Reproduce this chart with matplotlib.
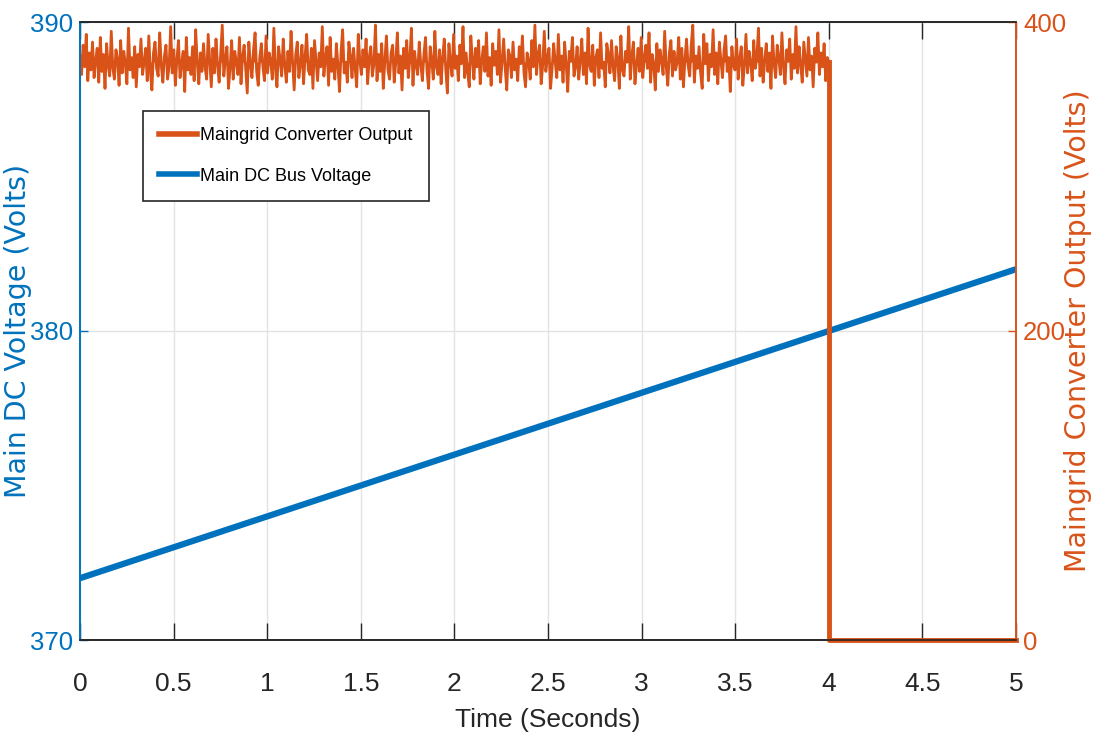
import numpy as np
import matplotlib
matplotlib.use("Agg")
import matplotlib.pyplot as plt
from matplotlib.lines import Line2D

# --- data ---
bus_time = [0, 5]
bus_voltage = [372, 382]  # Main DC bus (left axis)

# Maingrid converter output, noisy sampled signal from t=0 to t=4 (right axis)
grid_noise = [
    378, 366, 385, 371, 392, 362, 380, 369, 387, 364, 375, 383, 361, 390, 368, 379, 357, 386, 372, 365,
    394, 370, 363, 382, 376, 359, 388, 367, 381, 373, 360, 396, 369, 377, 364, 384, 358, 379, 371, 389,
    366, 374, 383, 362, 391, 368, 356, 380, 387, 370, 365, 393, 372, 361, 378, 385, 363, 371, 397, 367,
    382, 359, 376, 388, 364, 373, 381, 355, 390, 369, 377, 366, 384, 362, 395, 374, 360, 380, 368, 386,
    371, 363, 392, 375, 358, 383, 367, 389, 372, 361, 379, 398, 365, 376, 384, 357, 370, 388, 363, 381,
    374, 366, 390, 360, 378, 385, 369, 354, 387, 373, 364, 382, 393, 368, 359, 377, 386, 371, 362, 391,
    367, 380, 375, 363, 396, 370, 358, 384, 376, 365, 389, 372, 361, 381, 368, 394, 374, 356, 379, 387,
    364, 373, 385, 360, 378, 392, 369, 366, 383, 357, 388, 375, 362, 380, 371, 397, 365, 377, 384, 359,
    390, 368, 376, 363, 386, 372, 355, 381, 395, 367, 374, 361, 387, 378, 364, 383, 370, 358, 392, 375,
    366, 382, 371, 389, 360, 377, 384, 365, 373, 398, 362, 379, 368, 386, 357, 375, 391, 369, 363, 380,
    385, 361, 374, 393, 367, 378, 356, 383, 370, 388, 364, 376, 396, 359, 381, 372, 366, 387, 373, 362,
    379, 390, 368, 357, 384, 375, 363, 394, 371, 366, 382, 360, 377, 389, 369, 354, 386, 374, 365, 392,
    370, 378, 362, 385, 373, 397, 364, 380, 367, 358, 391, 376, 363, 383, 371, 388, 360, 375, 384, 368,
    393, 365, 377, 359, 386, 372, 381, 366, 395, 361, 374, 389, 370, 356, 382, 378, 364, 387, 369, 376,
    362, 384, 373, 391, 367, 358, 380, 375, 363, 388, 371, 398, 366, 379, 385, 360, 372, 394, 368, 377,
    383, 357, 370, 386, 374, 364, 392, 369, 378, 361, 387, 373, 355, 381, 376, 390, 365, 371, 384, 363,
    375, 389, 366, 380, 360, 396, 372, 368, 385, 359, 377, 382, 364, 393, 370, 374, 358, 386, 379, 367,
    388, 371, 362, 384, 376, 357, 391, 369, 365, 381, 374, 397, 363, 378, 387, 360, 372, 383, 368, 390,
    364, 377, 385, 370, 393, 361, 379, 373, 356, 386, 368, 382, 375, 366, 394, 371, 359, 380, 388, 365,
    381, 369, 374, 390, 363, 383, 358, 376, 389, 372, 365, 385, 398, 361, 378, 370, 384, 367, 357, 392,
    373, 386, 362, 379, 371, 395, 366, 380, 360, 387, 375, 364, 382, 391, 368, 377, 355, 384, 372, 369,
    389, 363, 376, 384, 359, 372, 392, 367, 381, 374, 362, 388, 370, 378, 396, 365, 383, 361, 375, 386,
    368, 380, 357, 391, 373, 364, 385, 377, 366, 393, 371, 360, 382, 375, 389, 363, 379, 370, 397, 367,
    384, 372, 361, 387, 376, 365, 390, 369, 378, 358, 383, 374, 393, 366, 380, 371, 386, 362, 377, 374,
]
grid_center = 374
grid_off_time = [4, 4, 5]
grid_off_value = [374, 0, 0]

x_ticks = [0, 0.5, 1, 1.5, 2, 2.5, 3, 3.5, 4, 4.5, 5]
x_ticklabels = ["0", "0.5", "1", "1.5", "2", "2.5", "3", "3.5", "4", "4.5", "5"]
left_ticks = [370, 380, 390]
right_ticks = [0, 200, 400]

BLUE = "#0072BD"
ORANGE = "#D95319"
DARK = "#262626"
NARROW = ["Liberation Sans Narrow", "Liberation Sans", "DejaVu Sans"]
WIDE = ["DejaVu Sans"]

grid_time = np.linspace(0, 4, len(grid_noise))

fig = plt.figure(figsize=(11.01, 7.34), dpi=100)
ax1 = fig.add_axes([80 / 1101, 94 / 734, 936 / 1101, 618 / 734])
ax2 = ax1.twinx()

# left axis: DC bus voltage
ax1.plot(bus_time, bus_voltage, color=BLUE, lw=4.5, solid_capstyle="butt")
ax1.set_xlim(0, 5)
ax1.set_ylim(370, 390)
ax1.set_xticks(x_ticks)
ax1.set_xticklabels(x_ticklabels, family=NARROW, fontsize=19, color=DARK)
ax1.set_yticks(left_ticks)
ax1.set_yticklabels([str(v) for v in left_ticks], family=NARROW, fontsize=18.5, color=BLUE)
ax1.tick_params(axis="x", direction="in", length=12, width=1, color=DARK, pad=23, top=True)
ax1.tick_params(axis="y", direction="in", length=6, width=1, color=BLUE, pad=5)
ax1.grid(True, color="#e3e3e3", lw=1)
ax1.set_axisbelow(True)
ax1.set_ylabel("Main DC Voltage (Volts)", family=WIDE, fontsize=20.5, color=BLUE)
ax1.yaxis.set_label_coords(-0.0515, 0.5)

# right axis: maingrid converter output
ax2.fill_between(grid_time, grid_noise, grid_center, color=ORANGE, lw=0)
ax2.plot(grid_time, grid_noise, color=ORANGE, lw=2.0)
ax2.plot(grid_off_time, grid_off_value, color=ORANGE, lw=3.5, clip_on=False)
ax2.set_ylim(0, 400)
ax2.set_yticks(right_ticks)
ax2.set_yticklabels([str(v) for v in right_ticks], family=NARROW, fontsize=18.5, color=ORANGE)
ax2.tick_params(axis="y", direction="in", length=6, width=1, color=ORANGE, pad=5)
ax2.set_ylabel("Maingrid Converter Output (Volts)", family=WIDE, fontsize=20.5,
               color=ORANGE, rotation=90)
ax2.yaxis.set_label_coords(1.051, 0.5)

for ax in (ax1, ax2):
    ax.spines["top"].set_color(DARK)
    ax.spines["bottom"].set_color(DARK)
    ax.spines["left"].set_color(BLUE)
    ax.spines["right"].set_color(ORANGE)
    for s in ax.spines.values():
        s.set_linewidth(1.2)

fig.text(548 / 1101, 14 / 734, "Time (Seconds)", family=NARROW, fontsize=19,
         color=DARK, ha="center", va="center")

h1 = Line2D([], [], color=ORANGE, lw=4)
h2 = Line2D([], [], color=BLUE, lw=4)
leg = ax2.legend([h1, h2], ["Maingrid Converter Output", "Main DC Bus Voltage"],
                 loc="upper left", bbox_to_anchor=(0.067, 0.856),
                 prop={"family": NARROW, "size": 13}, frameon=True, fancybox=False,
                 handlelength=2.1, handletextpad=0.2, labelspacing=1.3,
                 borderpad=0.9, borderaxespad=0, framealpha=1)
leg.get_frame().set_edgecolor(DARK)
leg.get_frame().set_linewidth(1.2)

fig.savefig("out.png", dpi=100)
